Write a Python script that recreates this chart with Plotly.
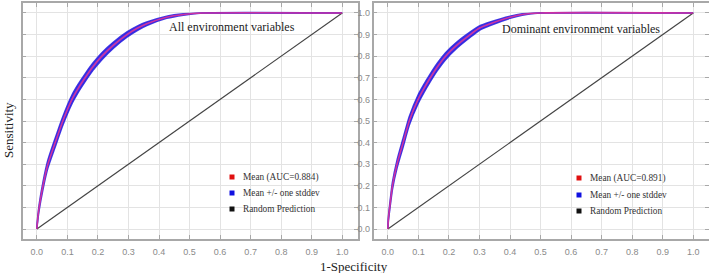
import plotly.graph_objects as go

# ---- data ----
fpr_all = [0, 0.003, 0.0075, 0.02, 0.036, 0.06, 0.085, 0.115, 0.135, 0.158, 0.183,
           0.213, 0.25, 0.295, 0.33, 0.36, 0.425, 0.48, 0.545, 1.0]
tpr_all = [0, 0.05, 0.1, 0.2, 0.3, 0.4, 0.5, 0.6, 0.65, 0.7, 0.75,
           0.8, 0.85, 0.9, 0.93, 0.95, 0.98, 0.993, 1.0, 1.0]
sd_all = [0, 0.008, 0.012, 0.016, 0.018, 0.02, 0.02, 0.02, 0.019, 0.018, 0.017,
          0.016, 0.014, 0.012, 0.01, 0.008, 0.005, 0.003, 0, 0]

fpr_dom = [0, 0.002, 0.006, 0.015, 0.03, 0.05, 0.07, 0.099, 0.118, 0.139, 0.162,
           0.189, 0.225, 0.27, 0.30, 0.335, 0.4, 0.44, 0.5, 1.0]
tpr_dom = [0, 0.05, 0.1, 0.2, 0.3, 0.4, 0.5, 0.6, 0.65, 0.7, 0.75,
           0.8, 0.85, 0.9, 0.93, 0.95, 0.98, 0.993, 1.0, 1.0]
sd_dom = [0, 0.008, 0.012, 0.016, 0.018, 0.02, 0.02, 0.02, 0.019, 0.018, 0.017,
          0.016, 0.014, 0.012, 0.01, 0.008, 0.005, 0.003, 0, 0]

random_x = [0, 1]
random_y = [0, 1]

panel_titles = ["All environment variables", "Dominant environment variables"]
auc_values = [0.884, 0.891]
legend_labels = ["Mean (AUC={:.3f})", "Mean +/- one stddev", "Random Prediction"]
tick_vals = [0, 0.1, 0.2, 0.3, 0.4, 0.5, 0.6, 0.7, 0.8, 0.9, 1.0]

# ---- styles ----
BAND = "rgba(45,35,225,0.9)"
MEAN = "rgba(230,50,150,0.85)"
DIAG = "#444444"
SERIF = "Liberation Serif, Times New Roman, serif"
SANS = "Liberation Sans, Arial, sans-serif"

fig = go.Figure()

panels = [(fpr_all, tpr_all, sd_all, "x", "y"), (fpr_dom, tpr_dom, sd_dom, "x2", "y2")]
for fx, ty, sd, xa, ya in panels:
    upper = [min(1.0, t + s) for t, s in zip(ty, sd)]
    lower = [max(0.0, t - s) for t, s in zip(ty, sd)]
    fig.add_trace(go.Scatter(x=fx, y=lower, mode="lines", line=dict(color=BAND, width=1.6, shape="spline", smoothing=0.5),
                             xaxis=xa, yaxis=ya, showlegend=False, hoverinfo="skip"))
    fig.add_trace(go.Scatter(x=fx, y=upper, mode="lines", line=dict(color=BAND, width=1.6, shape="spline", smoothing=0.5),
                             fill="tonexty", fillcolor=BAND,
                             xaxis=xa, yaxis=ya, showlegend=False, hoverinfo="skip"))
    fig.add_trace(go.Scatter(x=random_x, y=random_y, mode="lines", line=dict(color=DIAG, width=1.2),
                             xaxis=xa, yaxis=ya, showlegend=False))
    fig.add_trace(go.Scatter(x=fx, y=ty, mode="lines", line=dict(color=MEAN, width=1.6, shape="spline", smoothing=0.5),
                             xaxis=xa, yaxis=ya, showlegend=False))

W, H = 709, 273
XR = [-0.047, 1.05]
YR = [-0.046, 1.046]

def px(v):
    return v / W

def py(v):
    return 1 - v / H

axis_common = dict(range=XR, tickvals=tick_vals, tickformat=".1f", showgrid=True, gridcolor="#e3e3e3",
                   gridwidth=1, zeroline=False, showline=True, linecolor="#a8a8a8", linewidth=1.5,
                   mirror="allticks", ticks="inside", ticklen=4, tickcolor="#a8a8a8",
                   tickfont=dict(family=SANS, size=9, color="#8a8a8a"))

fig.update_layout(
    width=W, height=H, margin=dict(l=0, r=0, t=0, b=0),
    paper_bgcolor="white", plot_bgcolor="white", showlegend=False,
    xaxis=dict(domain=[px(22.5), px(357.5)], anchor="y", ticklabelstandoff=3, **axis_common),
    xaxis2=dict(domain=[px(373.5), px(708.5)], anchor="y2", ticklabelstandoff=3, **axis_common),
    yaxis=dict(domain=[py(239), py(3)], anchor="x", **{**axis_common, "range": YR, "showticklabels": False}),
    yaxis2=dict(domain=[py(239), py(3)], anchor="x2", **{**axis_common, "range": YR}),
)

def note(text, x, y, size, xanchor="center", angle=0, color="#222"):
    fig.add_annotation(text=text, x=px(x), y=py(y), xref="paper", yref="paper", xanchor=xanchor,
                       yanchor="middle", textangle=angle, showarrow=False,
                       font=dict(family=SERIF, size=size, color=color))

# titles
note(panel_titles[0], 232, 27, 12)
note(panel_titles[1], 581, 29, 12)
note("Sensitivity", 8, 130, 13, angle=-90)
note("1-Specificity", 354, 266, 13)

# legends
legend_colors = ["#e01010", "#1010e0", "#111111"]
for (mx, tx, rows), auc in zip([(232, 241, [177, 193, 209]), (579, 588, [178, 195, 211])], auc_values):
    for i, (lab, col) in enumerate(zip(legend_labels, legend_colors)):
        yy = rows[i]
        fig.add_shape(type="rect", xref="paper", yref="paper",
                      x0=px(mx - 2.5), x1=px(mx + 2.5), y0=py(yy + 2.5), y1=py(yy - 2.5),
                      fillcolor=col, line=dict(width=0))
        note(lab.format(auc) if i == 0 else lab, tx, yy, 9.3, xanchor="left", color="#333")

fig.write_html("out.html")
